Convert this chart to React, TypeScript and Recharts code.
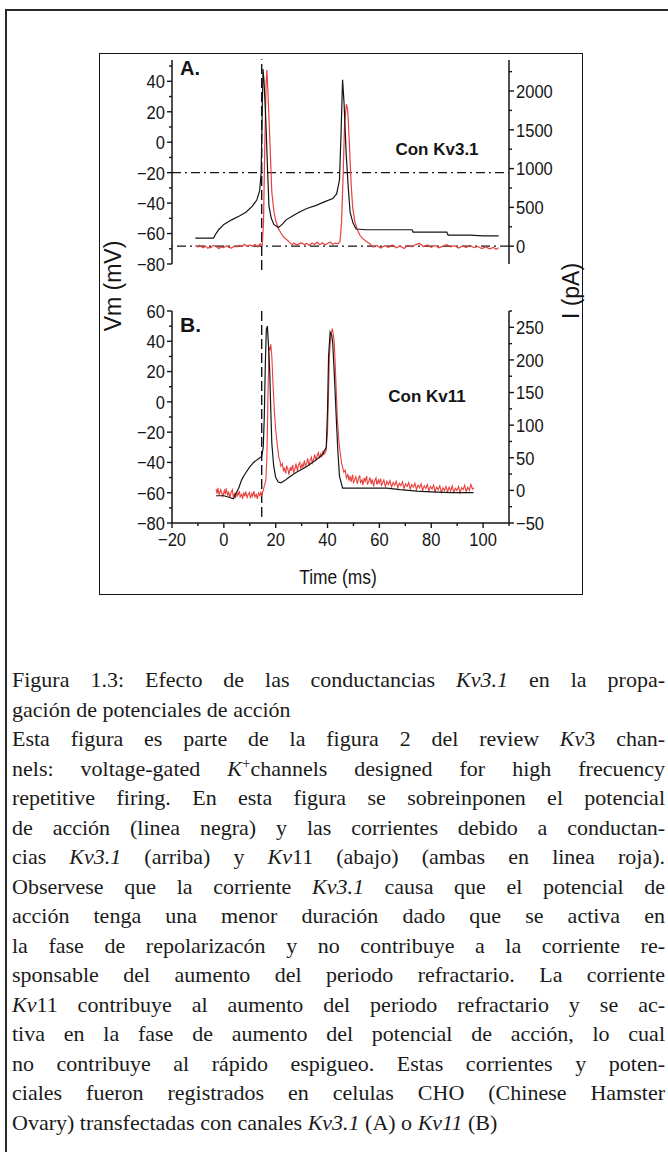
import { LineChart, Line, XAxis, YAxis, ReferenceLine } from 'recharts';

// --- data ---
// time in ms, Vm in mV, I in pA

const timeTicks = [-20, -10, 0, 10, 20, 30, 40, 50, 60, 70, 80, 90, 100, 110];
const vmTicksA = [-80, -70, -60, -50, -40, -30, -20, -10, 0, 10, 20, 30, 40, 50];
const iTicksA = [0, 250, 500, 750, 1000, 1250, 1500, 1750, 2000, 2250];
const vmTicksB = [-80, -70, -60, -50, -40, -30, -20, -10, 0, 10, 20, 30, 40, 50, 60];
const iTicksB = [-50, -25, 0, 25, 50, 75, 100, 125, 150, 175, 200, 225, 250, 275];

const vmA: [number, number][] = [
  [-11, -63], [-8, -63], [-5, -63], [-4, -63], [-3, -60], [-2, -57.5], [0, -54], [3, -51],
  [6, -48.5], [8.5, -46], [11, -42], [12.7, -38], [13.8, -32], [14.4, -20], [14.8, 20],
  [15.1, 48], [15.5, 40], [16.2, 14], [16.8, -15], [17.4, -42], [18.3, -50], [19.3, -54],
  [21, -56], [22.5, -54], [24, -51], [26.5, -48.5], [29, -46], [32, -43.5], [35.6, -41.5],
  [39, -39], [42, -37], [43.5, -34], [44.6, -25], [45.2, 5], [45.8, 41], [46.4, 25],
  [47.2, -8], [48, -30], [48.7, -46], [49.8, -53], [51, -57], [55, -57.5], [60, -57.5],
  [65, -57.5], [72.6, -57.5], [73, -59], [80, -59], [86, -59], [86.5, -61], [95, -61],
  [100, -61.5], [106, -61.5],
];

const iA: [number, number][] = [
  [-11, 5], [-10, -10], [-9.4, 12], [-8, -20], [-7, 0], [-6.3, -25], [-5, -15], [-4, 10],
  [-3, -5], [-2, -30], [-1, -10], [0, -20], [1, 5], [2, -15], [3, -25], [4, 0], [5, -10],
  [6, 10], [7, -5], [8, 25], [9, -5], [10, 15], [11, 0], [12, 20], [13, -10], [14, 30],
  [14.8, 10], [15.3, 300], [15.8, 1300], [16.3, 2100], [16.6, 2270], [17, 2000],
  [17.7, 1400], [18.5, 700], [19.3, 450], [20, 330], [21, 230], [22, 170], [23, 120],
  [24.4, 80], [25.5, 45], [26.3, 20], [27, 40], [28, 15], [29, 30], [30, 45], [31, 20],
  [32, 35], [33, 10], [34, 40], [35, 25], [36, 50], [37, 20], [38, 45], [39, 15], [40, 35],
  [41, 55], [42, 25], [43, 40], [44, 30], [44.8, 60], [45.4, 300], [46, 900], [46.6, 1600],
  [47.3, 1830], [47.8, 1750], [48.5, 1270], [49.1, 800], [49.7, 500], [50.5, 320],
  [51.6, 205], [52.5, 140], [53.5, 100], [55, 60], [56.3, 30], [57.5, -10], [59, 10],
  [60.5, -25], [62, 5], [63.5, -15], [65, 15], [66.5, -20], [68, 0], [69.5, -30], [71, 10],
  [72.5, -10], [74, 20], [75.5, 35], [77, -5], [78.5, 15], [80, -15], [81.5, 10], [83, -20],
  [84.5, 0], [86, 20], [87.5, -10], [89, 5], [90.5, -25], [92, 0], [93.5, -15], [95, 10],
  [96.5, -20], [98, -5], [99.5, -30], [101, -10], [102.5, -35], [104, -15], [105, -40],
  [106, -20],
];

const vmB: [number, number][] = [
  [-3, -62], [0, -62], [2, -63], [3.7, -64], [4.5, -61], [5.7, -57], [7, -51], [8.4, -47],
  [10, -43], [11.5, -40], [13, -38], [14.6, -36], [15.2, -30], [15.6, -10], [16, 25],
  [16.4, 48], [16.8, 50], [17.2, 38], [17.7, 20], [18.1, -5], [18.5, -27], [19.2, -42],
  [20, -50], [21, -53], [22, -53.5], [23.5, -52], [25, -50], [28, -46.5], [31.7, -43],
  [35, -39], [38, -35], [39.5, -30], [40, -5], [40.4, 30], [41, 46], [41.6, 44], [42, 39],
  [42.7, 15], [43.4, -12], [44, -33], [44.6, -49], [45.8, -57], [48, -57], [55, -57],
  [62.9, -57], [68, -58], [74.5, -59], [80, -59.5], [88, -60], [96.3, -60],
];

const iB: [number, number][] = [
  [-3, 2], [-2.6, -5], [-2.3, 4], [-1.8, -7], [-1.2, 1], [-0.9, -3], [-0.4, -9], [0.2, 0],
  [0.6, -6], [0.9, 3], [1.5, -8], [1.8, -2], [2.4, -11], [2.7, -4], [3.3, 1], [3.6, -9],
  [4.2, -5], [4.5, -12], [5.1, -3], [5.4, -8], [6, -1], [6.3, -10], [6.9, -6], [7.2, -13],
  [7.7, -4], [8.1, -9], [8.4, -2], [9, -11], [9.3, -7], [9.9, -3], [10.2, -12], [10.8, -5],
  [11.1, -9], [11.6, -1], [12, -10], [12.5, -6], [12.9, -13], [13.4, -4], [13.9, -8],
  [14.3, -2], [14.6, -9], [15.2, 0], [15.8, 10], [16.2, 15], [16.6, 50], [17, 140],
  [17.4, 220], [17.8, 215], [18.1, 224], [18.5, 206], [19, 160], [19.5, 120], [20, 93],
  [20.6, 70], [21.2, 51], [21.7, 44], [22, 37], [22.6, 41], [23, 29], [23.3, 35], [23.9, 26],
  [24.2, 38], [24.8, 31], [25.1, 24], [25.7, 36], [26, 30], [26.6, 39], [26.9, 27],
  [27.5, 34], [27.8, 41], [28.4, 30], [28.7, 38], [29.3, 43], [29.6, 33], [30.2, 40],
  [30.5, 35], [31.1, 46], [31.4, 37], [32, 42], [32.3, 49], [32.9, 38], [33.2, 45],
  [33.8, 51], [34.1, 42], [34.7, 48], [35, 55], [35.6, 46], [35.9, 52], [36.5, 58],
  [36.8, 49], [37.4, 56], [37.7, 52], [38.3, 61], [38.6, 55], [39.2, 58], [39.5, 62],
  [40, 90], [40.4, 150], [40.7, 206], [41.2, 235], [41.8, 248], [42.2, 240], [42.6, 227],
  [43.2, 170], [43.8, 108], [44.5, 70], [45.4, 42], [46.3, 28], [46.8, 31], [47.3, 19],
  [47.9, 25], [48.2, 15], [48.8, 22], [49.1, 13], [49.7, 24], [50, 11], [50.6, 18],
  [50.9, 21], [51.5, 10], [51.8, 17], [52.4, 23], [52.7, 12], [53.3, 16], [53.6, 8],
  [54.2, 19], [54.5, 14], [55.1, 22], [55.4, 9], [56, 15], [56.3, 20], [56.9, 10],
  [57.2, 17], [57.8, 6], [58.1, 14], [58.7, 19], [59, 9], [59.6, 16], [59.9, 11],
  [60.5, 18], [60.8, 7], [61.4, 13], [61.7, 16], [62.3, 6], [62.9, 14], [63.5, 9],
  [64.1, 15], [64.7, 5], [65.3, 12], [65.9, 8], [66.5, 14], [67.1, 4], [67.7, 11],
  [68.3, 7], [68.9, 13], [69.5, 3], [70.1, 10], [70.7, 6], [71.3, 12], [71.9, 2],
  [72.5, 9], [73.1, 5], [73.7, 11], [74.3, 1], [74.9, 8], [75.5, 4], [76.1, 10], [76.7, 0],
  [77.3, 7], [77.9, 3], [78.5, 9], [79.1, -1], [79.7, 6], [80.3, 2], [80.9, 8], [81.5, -2],
  [82.1, 5], [82.7, 1], [83.3, 7], [83.9, -3], [84.5, 4], [85.1, 0], [85.7, 6], [86.3, -2],
  [86.9, 5], [87.5, -1], [88.1, 7], [88.7, -3], [89.3, 3], [89.9, 0], [90.5, 6], [91.1, -4],
  [91.7, 4], [92.3, 1], [92.9, 8], [93.5, -2], [94.1, 5], [94.7, 0], [95.3, 9], [95.9, 2],
  [96.5, 4],
];

const captionLines = [
  ['Figura 1.3: Efecto de las conductancias ', ['Kv3.1'], ' en la propa-'],
  ['gación de potenciales de acción'],
  ['Esta figura es parte de la figura 2 del review ', ['Kv'], '3 chan-'],
  ['nels: voltage-gated ', ['K'], ['+', 'sup'], 'channels designed for high frecuency'],
  ['repetitive firing. En esta figura se sobreinponen el potencial'],
  ['de acción (linea negra) y las corrientes debido a conductan-'],
  ['cias ', ['Kv3.1'], ' (arriba) y ', ['Kv'], '11 (abajo) (ambas en linea roja).'],
  ['Observese que la corriente ', ['Kv3.1'], ' causa que el potencial de'],
  ['acción tenga una menor duración dado que se activa en'],
  ['la fase de repolarizacón y no contribuye a la corriente re-'],
  ['sponsable del aumento del periodo refractario. La corriente'],
  [['Kv'], '11 contribuye al aumento del periodo refractario y se ac-'],
  ['tiva en la fase de aumento del potencial de acción, lo cual'],
  ['no contribuye al rápido espigueo. Estas corrientes y poten-'],
  ['ciales fueron registrados en celulas CHO (Chinese Hamster'],
  ['Ovary) transfectadas con canales ', ['Kv3.1'], ' (A) o ', ['Kv11'], ' (B)'],
];
const paragraphEnds = [1, 15];

// --- drawing ---

const INK = '#151515';
const RED = '#e8403c';
const SANS = '"Liberation Sans", Arial, sans-serif';
const SERIF = '"Liberation Serif", "Times New Roman", serif';
const NARROW = 0.87; // the original uses a condensed face

const pts = (arr: [number, number][]) => arr.map(([t, v]) => ({ t, v }));
const fmt = (v: number) => (v < 0 ? '\u2212' + Math.abs(v) : String(v));

function makeTick(side: 'left' | 'right' | 'bottom', every: number) {
  return (props: any) => {
    const { x, y, payload } = props;
    const v = payload.value as number;
    const major = Math.abs(v % every) < 1e-6;
    const len = major ? 5 : 3;
    const textStyle = { fontFamily: SANS, fontSize: 19, fill: INK };
    if (side === 'left') {
      return (
        <g>
          <line x1={x} y1={y} x2={x - len} y2={y} stroke={INK} strokeWidth={1.4} />
          {major && (
            <text transform={`translate(${x - 7},${y}) scale(${NARROW},1)`} dy="0.36em" textAnchor="end" style={textStyle}>
              {fmt(v)}
            </text>
          )}
        </g>
      );
    }
    if (side === 'right') {
      return (
        <g>
          <line x1={x} y1={y} x2={x + len} y2={y} stroke={INK} strokeWidth={1.4} />
          {major && (
            <text transform={`translate(${x + 7},${y}) scale(${NARROW},1)`} dy="0.36em" textAnchor="start" style={textStyle}>
              {fmt(v)}
            </text>
          )}
        </g>
      );
    }
    return (
      <g>
        <line x1={x} y1={y} x2={x} y2={y + len} stroke={INK} strokeWidth={1.4} />
        {major && (
          <text transform={`translate(${x},${y + 23}) scale(${NARROW},1)`} textAnchor="middle" style={textStyle}>
            {fmt(v)}
          </text>
        )}
      </g>
    );
  };
}

const axisLine = { stroke: INK, strokeWidth: 1.5 };

function CaptionLine({ parts, last }: { parts: any[]; last: boolean }) {
  return (
    <div
      style={{
        height: 29.5,
        lineHeight: '29.5px',
        whiteSpace: 'nowrap',
        textAlign: last ? 'left' : 'justify',
        textAlignLast: last ? 'left' : 'justify',
      }}
    >
      {parts.map((p, i) =>
        typeof p === 'string' ? (
          <span key={i}>{p}</span>
        ) : p[1] === 'sup' ? (
          <sup key={i} style={{ fontSize: 15, lineHeight: 0 }}>{p[0]}</sup>
        ) : (
          <i key={i}>{p[0]}</i>
        ),
      )}
    </div>
  );
}

const abs = (left: number, top: number, extra: any = {}) => ({
  position: 'absolute' as const,
  left,
  top,
  ...extra,
});

export default function App() {
  return (
    <div style={{ position: 'absolute', left: 0, top: 0, width: 668, height: 1152, background: '#fff', overflow: 'hidden' }}>
      {/* page frame */}
      <div style={abs(5, 9, { width: 2, height: 1143, background: '#2a2a2a' })} />
      <div style={abs(5, 9, { width: 663, height: 2, background: '#2a2a2a' })} />

      {/* figure box */}
      <div style={abs(99, 53, { width: 484, height: 542, border: `1.5px solid ${INK}`, boxSizing: 'border-box' })} />

      {/* panel A */}
      <div style={abs(100, 54)}>
        <LineChart width={483} height={222} margin={{ top: 6, right: 0, bottom: 12, left: 0 }}>
          <XAxis type="number" dataKey="t" domain={[-20, 110]} allowDataOverflow hide />
          <YAxis
            yAxisId="left"
            orientation="left"
            type="number"
            domain={[-80, 54]}
            ticks={vmTicksA}
            interval={0}
            allowDataOverflow
            width={72}
            tickSize={0}
            tickMargin={0}
            tickLine={false}
            axisLine={axisLine}
            tick={makeTick('left', 20)}
          />
          <YAxis
            yAxisId="right"
            orientation="right"
            type="number"
            domain={[-230, 2400]}
            ticks={iTicksA}
            interval={0}
            allowDataOverflow
            width={74}
            tickSize={0}
            tickMargin={0}
            tickLine={false}
            axisLine={axisLine}
            tick={makeTick('right', 500)}
          />
          <ReferenceLine yAxisId="left" y={-20} stroke={INK} strokeWidth={1.3} strokeDasharray="9 4 2 4" />
          <ReferenceLine yAxisId="right" y={0} stroke={INK} strokeWidth={1.3} strokeDasharray="9 4 2 4" />
          <ReferenceLine
            yAxisId="left"
            segment={[{ x: 14.6, y: -84 }, { x: 14.6, y: 54.5 }]}
            ifOverflow="visible"
            stroke={INK}
            strokeWidth={1.4}
            strokeDasharray="10 4"
          />
          <Line yAxisId="right" data={pts(iA)} dataKey="v" type="linear" stroke={RED} strokeWidth={1.2} dot={false} isAnimationActive={false} />
          <Line yAxisId="left" data={pts(vmA)} dataKey="v" type="linear" stroke={INK} strokeWidth={1.2} dot={false} isAnimationActive={false} />
        </LineChart>
      </div>

      {/* panel B */}
      <div style={abs(100, 290)}>
        <LineChart width={483} height={305} margin={{ top: 21, right: 0, bottom: 32, left: 0 }}>
          <XAxis
            type="number"
            dataKey="t"
            domain={[-20, 110]}
            ticks={timeTicks}
            interval={0}
            allowDataOverflow
            height={40}
            tickSize={0}
            tickMargin={0}
            tickLine={false}
            axisLine={axisLine}
            tick={makeTick('bottom', 20)}
          />
          <YAxis
            yAxisId="left"
            orientation="left"
            type="number"
            domain={[-80, 60]}
            ticks={vmTicksB}
            interval={0}
            allowDataOverflow
            width={72}
            tickSize={0}
            tickMargin={0}
            tickLine={false}
            axisLine={axisLine}
            tick={makeTick('left', 20)}
          />
          <YAxis
            yAxisId="right"
            orientation="right"
            type="number"
            domain={[-50, 275]}
            ticks={iTicksB}
            interval={0}
            allowDataOverflow
            width={74}
            tickSize={0}
            tickMargin={0}
            tickLine={false}
            axisLine={axisLine}
            tick={makeTick('right', 50)}
          />
          <ReferenceLine
            yAxisId="left"
            segment={[{ x: 14.6, y: -76 }, { x: 14.6, y: 62 }]}
            ifOverflow="visible"
            stroke={INK}
            strokeWidth={1.4}
            strokeDasharray="10 4"
          />
          <Line yAxisId="right" data={pts(iB)} dataKey="v" type="linear" stroke={RED} strokeWidth={1.1} dot={false} isAnimationActive={false} />
          <Line yAxisId="left" data={pts(vmB)} dataKey="v" type="linear" stroke={INK} strokeWidth={1.2} dot={false} isAnimationActive={false} />
        </LineChart>
      </div>

      {/* panel labels */}
      <div style={abs(180, 58, { fontFamily: SANS, fontWeight: 700, fontSize: 20, lineHeight: '20px', color: INK })}>A.</div>
      <div style={abs(180, 314, { fontFamily: SANS, fontWeight: 700, fontSize: 21, lineHeight: '21px', color: INK })}>B.</div>
      <div style={abs(437, 150, { transform: 'translate(-50%, -50%)', fontFamily: SANS, fontWeight: 700, fontSize: 17, color: INK, whiteSpace: 'nowrap' })}>Con Kv3.1</div>
      <div style={abs(427, 397, { transform: 'translate(-50%, -50%)', fontFamily: SANS, fontWeight: 700, fontSize: 17, color: INK, whiteSpace: 'nowrap' })}>Con Kv11</div>

      {/* axis titles */}
      <div style={abs(338, 577, { transform: `translate(-50%, -50%) scaleX(${NARROW})`, fontFamily: SANS, fontSize: 20, color: INK, whiteSpace: 'nowrap' })}>Time (ms)</div>
      <div style={abs(113, 286, { transform: 'translate(-50%, -50%) rotate(-90deg)', fontFamily: SANS, fontSize: 23, color: INK, whiteSpace: 'nowrap' })}>Vm (mV)</div>
      <div style={abs(571, 291, { transform: 'translate(-50%, -50%) rotate(-90deg)', fontFamily: SANS, fontSize: 23, color: INK, whiteSpace: 'nowrap' })}>I (pA)</div>

      {/* caption */}
      <div style={abs(12, 665, { width: 653, fontFamily: SERIF, fontSize: 22, color: '#1a1a1a' })}>
        {captionLines.map((parts, i) => (
          <CaptionLine key={i} parts={parts} last={paragraphEnds.includes(i)} />
        ))}
      </div>
    </div>
  );
}
